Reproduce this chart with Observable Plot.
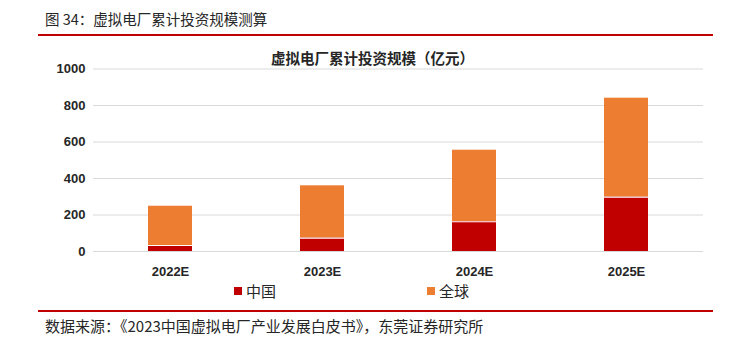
<!DOCTYPE html>
<html><head><meta charset="utf-8">
<script src="https://cdn.jsdelivr.net/npm/d3@7"></script>
<script src="https://cdn.jsdelivr.net/npm/@observablehq/plot@0.6"></script>
<style>
body{margin:0;background:#fff;width:745px;height:344px;position:relative;overflow:hidden;font-family:"Noto Sans CJK SC",sans-serif;color:#262626}
.abs{position:absolute;white-space:nowrap}
.rule{position:absolute;left:38px;width:675px;height:2px;background:#c00000}
#title{left:45px;top:9px;font-size:14.5px;line-height:20px}
#ctitle{left:0;width:745px;text-align:center;top:48px;font-size:14.5px;font-weight:bold;line-height:20px}
#chart{position:absolute;left:0;top:60px}
#source{left:45px;top:316px;font-size:15px;line-height:20px}
.sw{position:absolute;width:8px;height:8px}
.lg{position:absolute;font-size:15px;line-height:20px;top:281px}
</style></head><body>
<div class="abs" id="title">图 34：虚拟电厂累计投资规模测算</div>
<div class="rule" style="top:34px"></div>
<div class="abs" id="ctitle">虚拟电厂累计投资规模（亿元）</div>
<div id="chart"></div>
<div id="legend"></div>
<div class="rule" style="top:310px"></div>
<div class="abs" id="source">数据来源：《2023中国虚拟电厂产业发展白皮书》，东莞证券研究所</div>
<script>
const years = ["2022E", "2023E", "2024E", "2025E"];
const chinaValues = [33, 73, 163, 298];
const globalValues = [248, 360, 555, 840];
const yTicks = [0, 200, 400, 600, 800, 1000];
const seriesNames = ["中国", "全球"];
const seriesColors = ["#c00000", "#ed7d31"];

const rows = years.map((y, i) => ({year: y, china: chinaValues[i], global: globalValues[i]}));

const chart = Plot.plot({
  width: 745, height: 230,
  marginTop: 8.5, marginLeft: 93, marginRight: 42, marginBottom: 39,
  style: {fontFamily: "'Liberation Sans', Arial, sans-serif", fontSize: "13px", color: "#262626", background: "transparent"},
  x: {domain: years, paddingInner: 0.71, paddingOuter: 0.355, label: null, tickSize: 0, tickPadding: 15},
  y: {domain: [0, 1000], ticks: yTicks, tickFormat: d3.format("d"), label: null, tickSize: 0, tickPadding: 8},
  marks: [
    Plot.ruleY(yTicks, {stroke: "#d9d9d9", strokeWidth: 1}),
    Plot.barY(rows, {x: "year", y: "global", fill: seriesColors[1]}),
    Plot.barY(rows, {x: "year", y: "china", fill: seriesColors[0]}),
    Plot.tickY(rows, {x: "year", y: "china", stroke: "#ffffff", strokeWidth: 1.2})
  ]
});
chart.querySelectorAll("text").forEach(t => t.setAttribute("font-weight", "bold"));
document.getElementById("chart").appendChild(chart);

const legend = document.getElementById("legend");
const lgX = [234, 427];
seriesNames.forEach((name, i) => {
  const sw = document.createElement("div");
  sw.className = "sw";
  sw.style.left = lgX[i] + "px";
  sw.style.top = "287px";
  sw.style.background = seriesColors[i];
  legend.appendChild(sw);
  const t = document.createElement("div");
  t.className = "lg";
  t.style.left = (lgX[i] + 12) + "px";
  t.textContent = name;
  legend.appendChild(t);
});
</script>
</body></html>
